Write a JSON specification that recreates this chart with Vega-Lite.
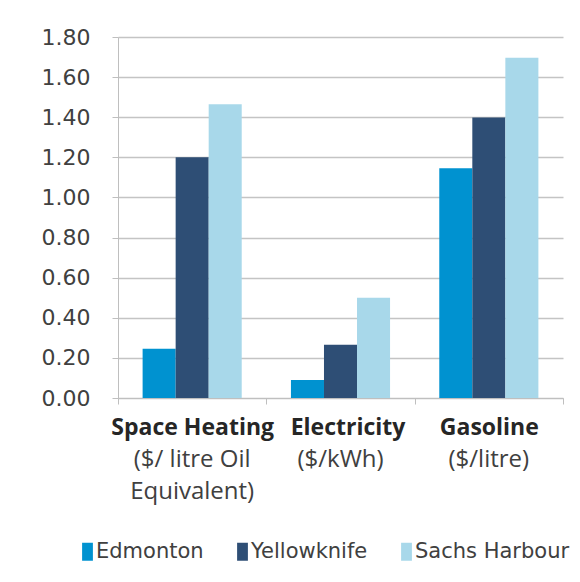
{
  "$schema": "https://vega.github.io/schema/vega-lite/v6.json",
  "width": 445,
  "height": 361,
  "autosize": {"type": "none"},
  "padding": {"left": 118, "top": 37, "right": 17, "bottom": 184},
  "background": "white",
  "data": {
    "values": [
      {"category": "Space Heating", "city": "Edmonton", "value": 0.245},
      {"category": "Space Heating", "city": "Yellowknife", "value": 1.2},
      {"category": "Space Heating", "city": "Sachs Harbour", "value": 1.465},
      {"category": "Electricity", "city": "Edmonton", "value": 0.09},
      {"category": "Electricity", "city": "Yellowknife", "value": 0.265},
      {"category": "Electricity", "city": "Sachs Harbour", "value": 0.5},
      {"category": "Gasoline", "city": "Edmonton", "value": 1.145},
      {"category": "Gasoline", "city": "Yellowknife", "value": 1.398},
      {"category": "Gasoline", "city": "Sachs Harbour", "value": 1.697}
    ]
  },
  "layer": [
    {
      "mark": {"type": "bar"},
      "encoding": {
        "x": {
          "field": "category",
          "type": "nominal",
          "sort": ["Space Heating", "Electricity", "Gasoline"],
          "scale": {"paddingInner": 0, "paddingOuter": 0},
          "axis": {
            "orient": "bottom",
            "title": null,
            "labelAngle": 0,
            "tickBand": "extent",
            "tickSize": 6,
            "tickColor": "#bfbfbf",
            "domainColor": "#bfbfbf",
            "labelFont": "Open Sans",
            "labelFontSize": 23,
            "labelFontWeight": "bold",
            "labelColor": "#262626",
            "labelPadding": 12,
            "labelBaseline": "top",
            "labelOffset": {"condition": {"test": "datum.value == 'Electricity'", "value": 7}, "value": 0}
          }
        },
        "xOffset": {
          "field": "city",
          "type": "nominal",
          "sort": ["Edmonton", "Yellowknife", "Sachs Harbour"],
          "scale": {"paddingInner": 0, "paddingOuter": 0.745}
        },
        "y": {
          "field": "value",
          "type": "quantitative",
          "scale": {"domain": [0, 1.8], "nice": false},
          "axis": {
            "title": null,
            "values": [0, 0.2, 0.4, 0.6, 0.8, 1.0, 1.2, 1.4, 1.6, 1.8],
            "format": ".2f",
            "tickSize": 6,
            "tickColor": "#bfbfbf",
            "domainColor": "#bfbfbf",
            "gridColor": "#c4c4c4",
            "gridWidth": 1.5,
            "labelFont": "DejaVu Sans",
            "labelFontSize": 22,
            "labelColor": "#404040",
            "labelPadding": 22
          }
        },
        "color": {
          "field": "city",
          "type": "nominal",
          "sort": ["Edmonton", "Yellowknife", "Sachs Harbour"],
          "scale": {
            "domain": ["Edmonton", "Yellowknife", "Sachs Harbour"],
            "range": ["#0092D0", "#2E4E75", "#A8D8EA"]
          },
          "legend": {
            "title": null,
            "orient": "none",
            "direction": "horizontal",
            "legendX": -41,
            "legendY": 504,
            "symbolType": "M-0.6,-1H0.6V1H-0.6Z",
            "symbolSize": 324,
            "symbolStrokeWidth": 0,
            "labelFont": "DejaVu Sans",
            "labelFontSize": 21,
            "labelColor": "#404040",
            "labelOffset": -2,
            "labelLimit": 0,
            "columnPadding": 28
          }
        }
      }
    },
    {
      "mark": {"type": "bar", "opacity": 0},
      "encoding": {
        "x": {
          "field": "category",
          "type": "nominal",
          "sort": ["Space Heating", "Electricity", "Gasoline"],
          "axis": {
            "orient": "bottom",
            "title": null,
            "labelAngle": 0,
            "domain": false,
            "ticks": false,
            "grid": false,
            "labelFont": "Open Sans",
            "labelFontSize": 24,
            "labelColor": "#404040",
            "labelPadding": 49,
            "labelBaseline": "top",
            "labelLineHeight": 32,
            "labelExpr": "datum.value == 'Space Heating' ? ['($/ litre Oil', 'Equivalent)'] : datum.value == 'Electricity' ? '($/kWh)' : '($/litre)'"
          }
        },
        "xOffset": {
          "field": "city",
          "type": "nominal",
          "sort": ["Edmonton", "Yellowknife", "Sachs Harbour"]
        },
        "y": {"field": "value", "type": "quantitative"}
      }
    }
  ],
  "resolve": {"axis": {"x": "independent"}},
  "config": {"view": {"stroke": null}}
}
